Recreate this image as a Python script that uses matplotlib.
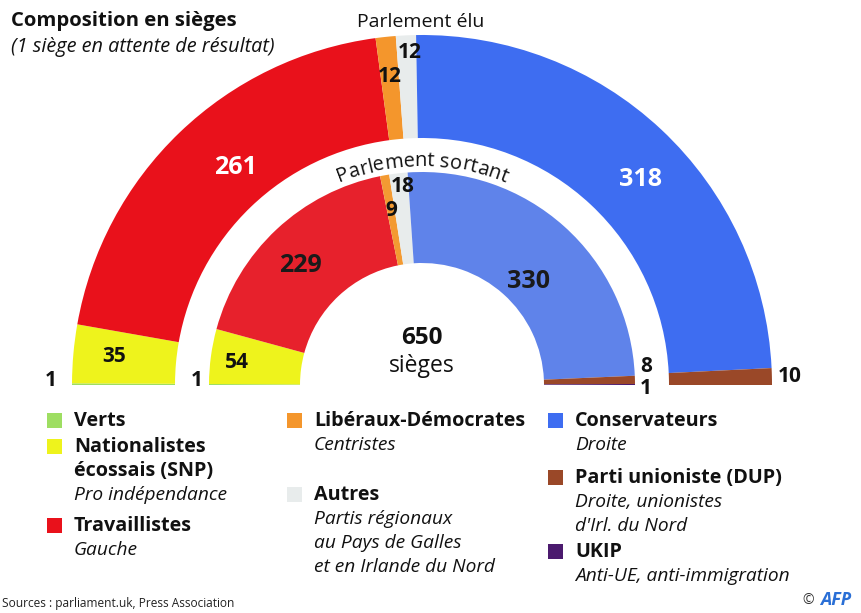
import numpy as np
import matplotlib
matplotlib.use("Agg")
import matplotlib.pyplot as plt
from matplotlib.patches import Wedge, Rectangle
from matplotlib.textpath import TextToPath
from matplotlib.font_manager import FontProperties

# ---------------- data ----------------
parties = ["Verts", "SNP", "Travaillistes", "Libéraux-Démocrates", "Autres",
           "Conservateurs", "DUP", "UKIP"]
elu_seats = [1, 35, 261, 12, 12, 318, 10, 0]
sortant_seats = [1, 54, 229, 9, 18, 330, 8, 1]
outer_colors = ["#9ede62", "#eef31c", "#e9111b", "#f4962c", "#e8ecec",
                "#3e6df1", "#9a4828", "#4b1a6e"]
inner_colors = ["#9ede62", "#eef31c", "#e7212c", "#f39a32", "#e8ecec",
                "#5f83ea", "#9a4828", "#4b1a6e"]
total_seats = 650

legend_items = [
    ("Verts", "", 0),
    ("Nationalistes\nécossais (SNP)", "Pro indépendance", 1),
    ("Travaillistes", "Gauche", 2),
    ("Libéraux-Démocrates", "Centristes", 3),
    ("Autres", "Partis régionaux\nau Pays de Galles\net en Irlande du Nord", 4),
    ("Conservateurs", "Droite", 5),
    ("Parti unioniste (DUP)", "Droite, unionistes\nd'Irl. du Nord", 6),
    ("UKIP", "Anti-UE, anti-immigration", 7),
]

W, H = 861, 613
FONT = "Open Sans"

fig = plt.figure(figsize=(W / 100, H / 100), dpi=100)
ax = fig.add_axes([0, 0, 1, 1])
ax.set_xlim(0, W)
ax.set_ylim(0, H)
ax.set_aspect("equal")
ax.axis("off")


def Y(y):
    return H - y


cx, cy = 422, Y(385)


def draw_ring(values, colors, r_out, width):
    tot = sum(values)
    start = 180.0
    for v, c in zip(values, colors):
        if v == 0:
            continue
        span = 180.0 * v / tot
        ax.add_patch(Wedge((cx, cy), r_out, start - span, start, width=width,
                           facecolor=c, edgecolor="none"))
        start -= span


draw_ring(elu_seats, outer_colors, 350, 103)
draw_ring(sortant_seats, inner_colors, 213, 91)

# ---------------- seat labels ----------------
def lab(x, y, s, size=13, color="#111111"):
    ax.text(x, Y(y), s, ha="center", va="center", fontsize=size,
            fontweight="bold", color=color, family=FONT)

lab(235, 167, str(elu_seats[2]), 18, "white")
lab(640, 180, str(elu_seats[5]), 18, "white")
lab(300, 265, str(sortant_seats[2]), 18, "#1a1a1a")
lab(528, 282, str(sortant_seats[5]), 18, "#1a1a1a")
lab(114, 356, str(elu_seats[1]), 15)
lab(237, 362, str(sortant_seats[1]), 15)
lab(410, 52, str(elu_seats[4]), 15)
lab(390, 77, str(elu_seats[3]), 15)
lab(403, 186, str(sortant_seats[4]), 15)
lab(391, 211, str(sortant_seats[3]), 15)
lab(646, 367, str(sortant_seats[6]), 15)
lab(646, 388, str(sortant_seats[7]), 15)
lab(790, 376, str(elu_seats[6]), 15)
lab(51, 380, str(elu_seats[0]), 15)
lab(197, 381, str(sortant_seats[0]), 15)

ax.text(cx, Y(338), str(total_seats), ha="center", va="center", fontsize=17.5,
        fontweight="bold", color="#111111", family=FONT)
ax.text(cx, Y(366), "sièges", ha="center", va="center", fontsize=16.5,
        color="#111111", family=FONT)

# ---------------- titles ----------------
ax.text(11, Y(21), "Composition en sièges", ha="left", va="center",
        fontsize=14.6, fontweight="bold", color="#111111", family=FONT)
ax.text(11, Y(47), "(1 siège en attente de résultat)", ha="left", va="center",
        fontsize=14.3, style="italic", color="#111111", family=FONT)
ax.text(421, Y(22), "Parlement élu", ha="center", va="center", fontsize=14,
        color="#111111", family=FONT)

# curved text
def curved_text(s, r, size):
    fp = FontProperties(family=FONT, size=size)
    t2p = TextToPath()
    px = 100 / 72.0
    def width(txt):
        if not txt:
            return 0.0
        w, h, d = t2p.get_text_width_height_descent(txt, fp, ismath=False)
        return w * px
    total = width(s)
    for i, ch in enumerate(s):
        pre = width(s[:i])
        cw = width(s[:i + 1]) - pre
        arc = pre + cw / 2 - total / 2
        ang = np.pi / 2 - arc / r
        x = cx + r * np.cos(ang)
        y = cy + r * np.sin(ang)
        ax.text(x, y, ch, ha="center", va="baseline", fontsize=size,
                rotation=np.degrees(ang) - 90, rotation_mode="anchor",
                color="#111111", family=FONT)

curved_text("Parlement sortant", 219, 14.5)

# ---------------- legend ----------------
cols = {0: 47, 1: 47, 2: 47, 3: 287, 4: 287, 5: 548, 6: 548, 7: 548}
rows = {0: 421, 1: 447, 2: 526, 3: 421, 4: 495, 5: 421, 6: 478, 7: 552}
line_h = 24
for i, (bold, ital, ci) in enumerate(legend_items):
    x0 = cols[i]
    y0 = rows[i]
    ax.add_patch(Rectangle((x0, Y(y0) - 7), 15, 15, facecolor=outer_colors[ci],
                           edgecolor="none"))
    blines = bold.split("\n")
    for k, bl in enumerate(blines):
        ax.text(x0 + 27, Y(y0 + k * line_h), bl, ha="left", va="center",
                fontsize=14.2, fontweight="bold", color="#111111", family=FONT)
    if ital:
        for k, il in enumerate(ital.split("\n")):
            ax.text(x0 + 27, Y(y0 + (len(blines) + k) * line_h), il,
                    ha="left", va="center", fontsize=13.8, style="italic",
                    color="#111111", family=FONT)

ax.text(2, Y(603), "Sources : parliament.uk, Press Association", ha="left",
        va="center", fontsize=8.6, color="#222222", family=FONT)
ax.text(808, Y(600), "©", ha="center", va="center", fontsize=10,
        color="#333333", family=FONT)
ax.text(836, Y(600), "AFP", ha="center", va="center", fontsize=13,
        fontweight="bold", style="italic", color="#2a6fd6", family=FONT)

fig.savefig("out.png", dpi=100, facecolor="white")
